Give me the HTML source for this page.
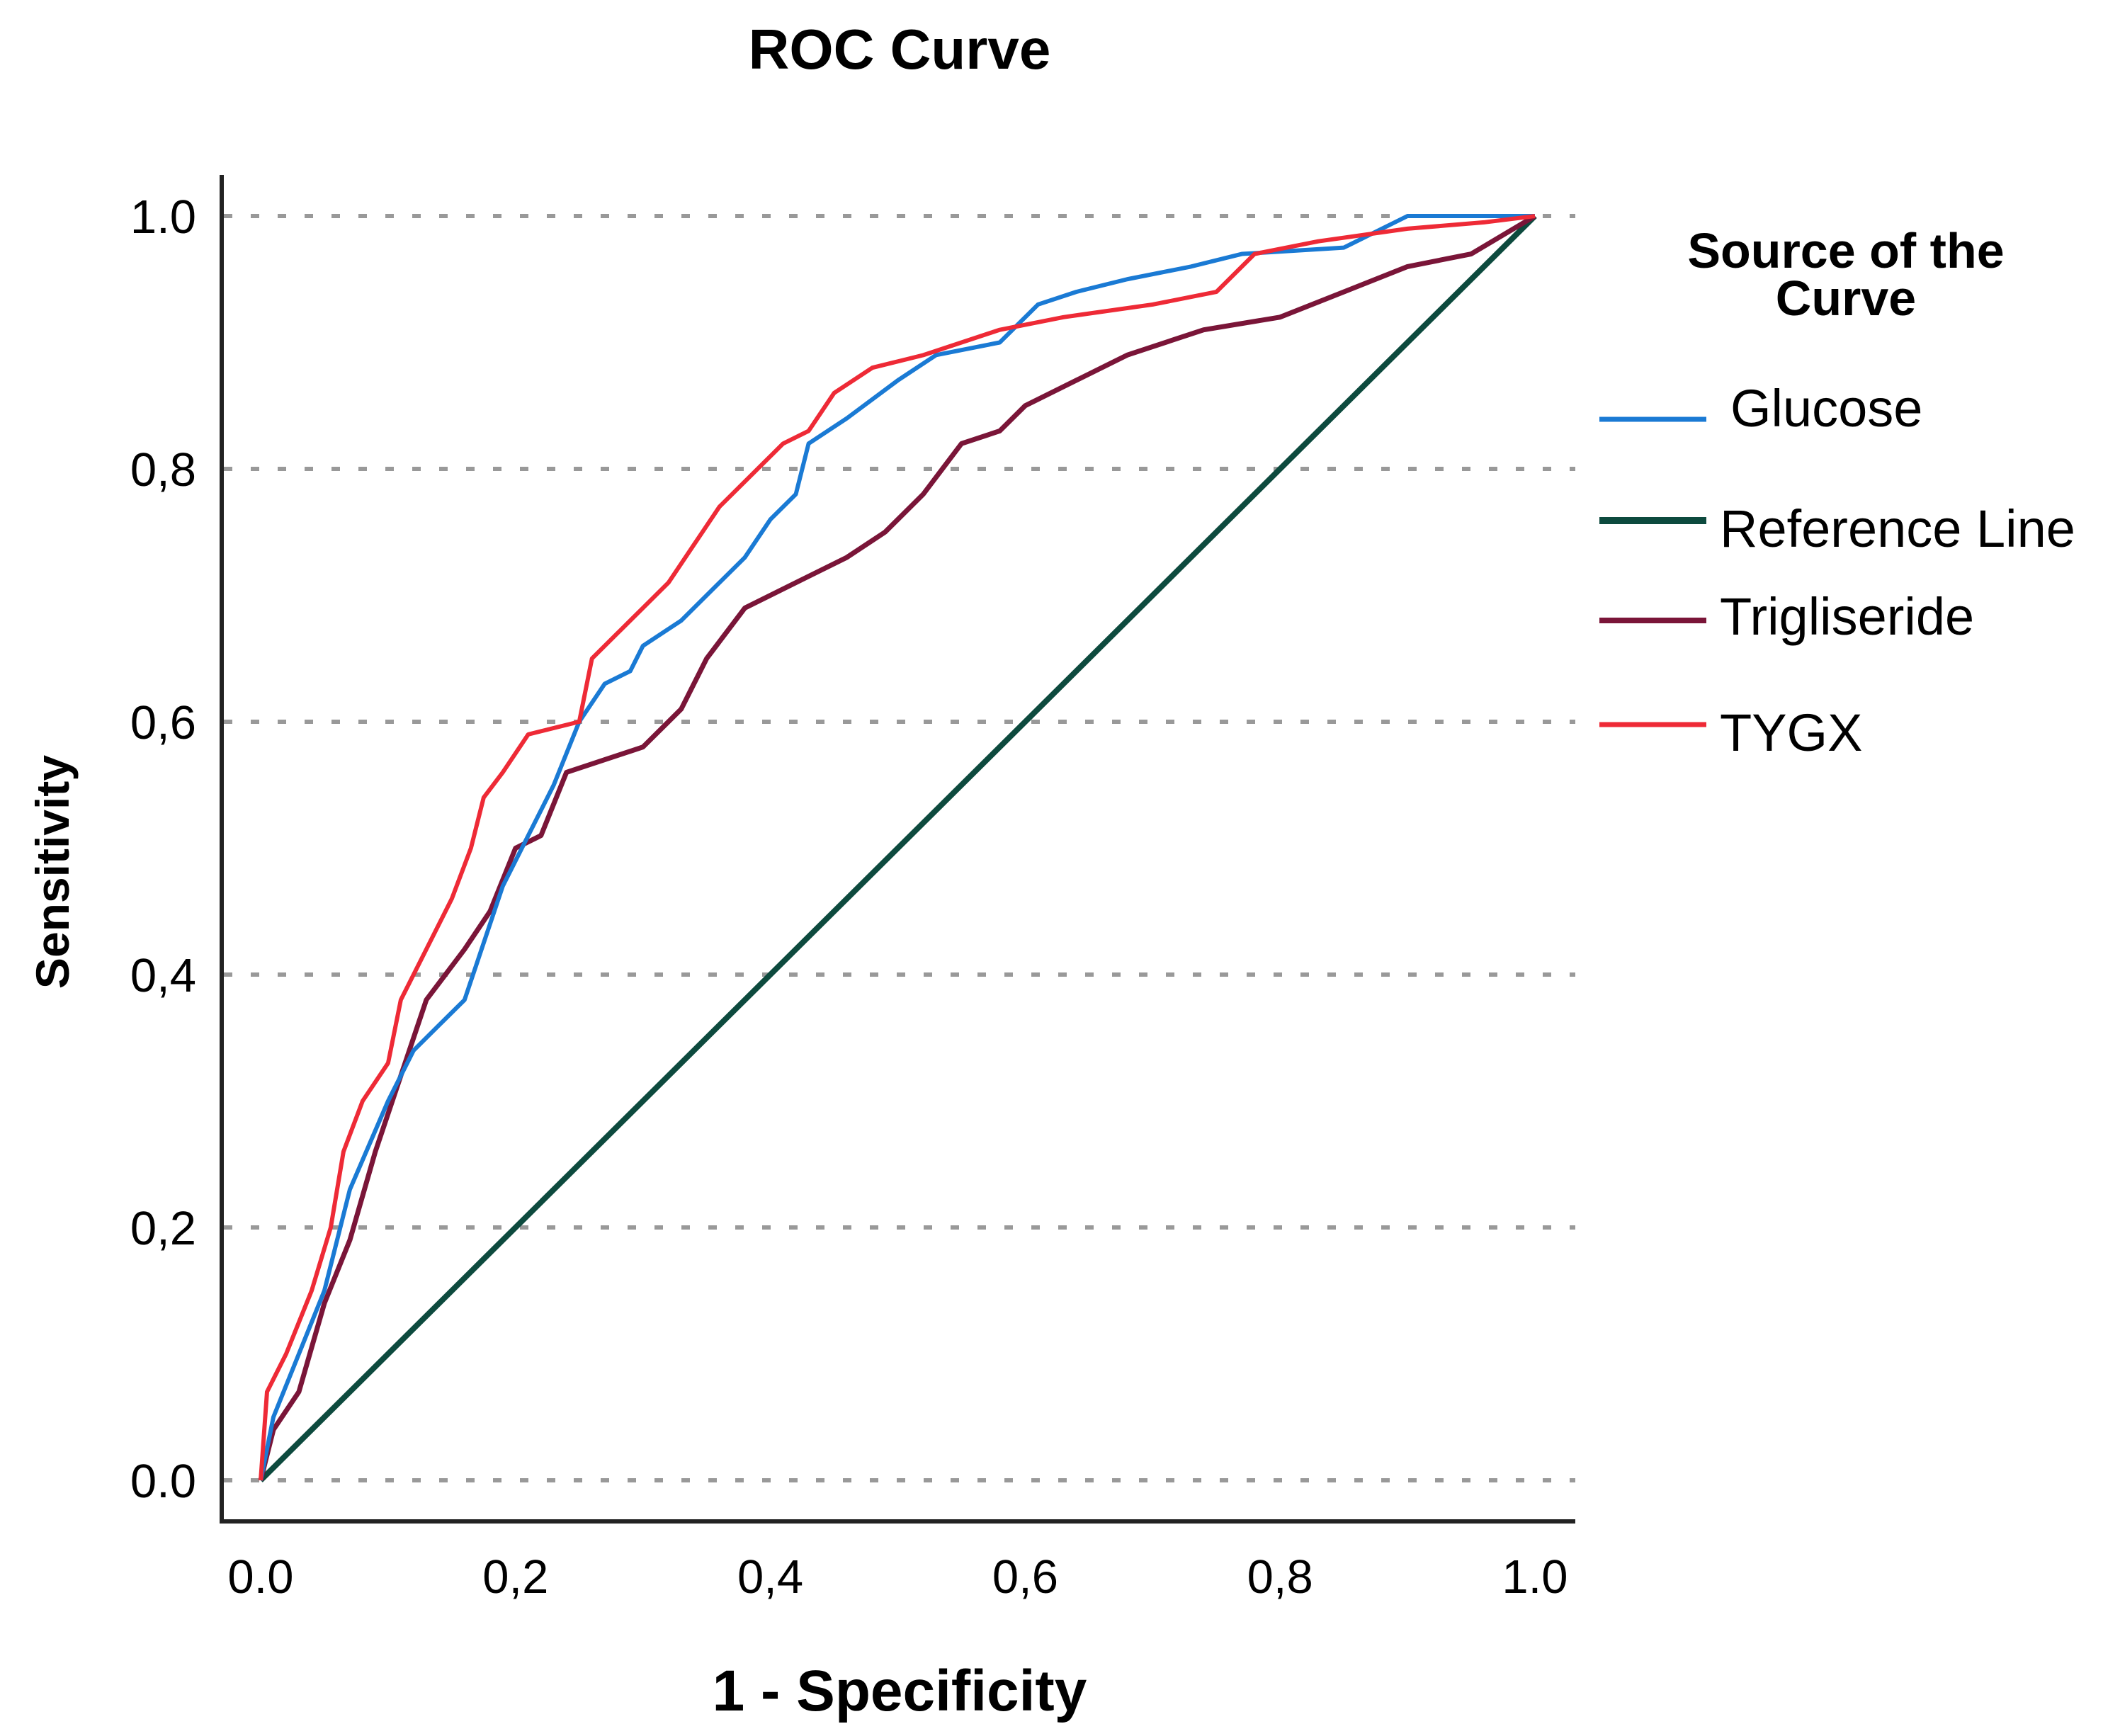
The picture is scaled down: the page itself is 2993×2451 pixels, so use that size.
<!DOCTYPE html>
<html><head><meta charset="utf-8"><style>
html,body{margin:0;padding:0;background:#fff}
svg{display:block}
text{font-family:"Liberation Sans",Arial,sans-serif;fill:#000}
</style></head><body>
<svg id="chart" width="2993" height="2451" viewBox="0 0 2993 2451" xmlns="http://www.w3.org/2000/svg">
<text x="1270" y="97" font-size="80" font-weight="bold" text-anchor="middle">ROC Curve</text>
<g id="grid"></g>
<g id="series"></g>
<line x1="313" y1="247" x2="313" y2="2150" stroke="#222" stroke-width="6"/>
<line x1="310" y1="2148" x2="2224" y2="2148" stroke="#222" stroke-width="6"/>
<g id="yticks"></g>
<g id="xticks"></g>
<text x="1270" y="2415" font-size="82" font-weight="bold" text-anchor="middle">1 - Specificity</text>
<text transform="translate(97,1231) rotate(-90)" font-size="66" font-weight="bold" text-anchor="middle">Sensitivity</text>
<g>
<text x="2606" y="378" font-size="70" font-weight="bold" text-anchor="middle">Source of the</text>
<text x="2606" y="445" font-size="70" font-weight="bold" text-anchor="middle">Curve</text>
<line x1="2258" y1="592" x2="2409" y2="592" stroke="#1a7ad4" stroke-width="7"/>
<text x="2443" y="602" font-size="74">Glucose</text>
<line x1="2258" y1="735" x2="2409" y2="735" stroke="#0d4a3e" stroke-width="10"/>
<text x="2428" y="772" font-size="74">Reference Line</text>
<line x1="2258" y1="876" x2="2409" y2="876" stroke="#7a1538" stroke-width="8"/>
<text x="2428" y="896" font-size="74">Trigliseride</text>
<line x1="2258" y1="1023" x2="2409" y2="1023" stroke="#ee2a36" stroke-width="7"/>
<text x="2428" y="1060" font-size="74">TYGX</text>
</g>
</svg>
<script>
const tickValues=[0,0.2,0.4,0.6,0.8,1.0];
const tickLabels=["0.0","0,2","0,4","0,6","0,8","1.0"];
const yTickLabels=["0.0","0,2","0,4","0,6","0,8","1.0"];
const referenceFpr=[0,1];
const referenceTpr=[0,1];
const glucoseFpr=[0,0.01,0.03,0.05,0.07,0.1,0.12,0.14,0.16,0.17,0.19,0.21,0.23,0.25,0.27,0.29,0.3,0.33,0.36,0.38,0.4,0.42,0.43,0.46,0.5,0.53,0.58,0.61,0.64,0.68,0.73,0.77,0.85,0.9,1];
const glucoseTpr=[0,0.05,0.1,0.15,0.23,0.3,0.34,0.36,0.38,0.41,0.47,0.51,0.55,0.6,0.63,0.64,0.66,0.68,0.71,0.73,0.76,0.78,0.82,0.84,0.87,0.89,0.9,0.93,0.94,0.95,0.96,0.97,0.975,1.0,1];
const trigFpr=[0,0.01,0.03,0.05,0.07,0.09,0.11,0.13,0.16,0.18,0.2,0.22,0.24,0.27,0.3,0.33,0.35,0.38,0.42,0.46,0.49,0.52,0.55,0.58,0.6,0.64,0.68,0.74,0.8,0.85,0.9,0.95,1];
const trigTpr=[0,0.04,0.07,0.14,0.19,0.26,0.32,0.38,0.42,0.45,0.5,0.51,0.56,0.57,0.58,0.61,0.65,0.69,0.71,0.73,0.75,0.78,0.82,0.83,0.85,0.87,0.89,0.91,0.92,0.94,0.96,0.97,1];
const tygxFpr=[0,0.005,0.02,0.04,0.055,0.065,0.08,0.1,0.11,0.13,0.15,0.165,0.175,0.19,0.21,0.25,0.26,0.28,0.3,0.32,0.34,0.36,0.39,0.41,0.43,0.45,0.48,0.52,0.58,0.63,0.7,0.75,0.78,0.83,0.9,0.96,1];
const tygxTpr=[0,0.07,0.1,0.15,0.2,0.26,0.3,0.33,0.38,0.42,0.46,0.5,0.54,0.56,0.59,0.6,0.65,0.67,0.69,0.71,0.74,0.77,0.8,0.82,0.83,0.86,0.88,0.89,0.91,0.92,0.93,0.94,0.97,0.98,0.99,0.995,1];

const NS="http://www.w3.org/2000/svg";
const X0=368,X1=2167,Y0=2090,Y1=305;
function xs(v){return X0+(X1-X0)*v;}
function ys(v){return Y0-(Y0-Y1)*v;}
const grid=document.getElementById('grid');
const yt=document.getElementById('yticks');
const xt=document.getElementById('xticks');
tickValues.forEach((v,i)=>{
  const l=document.createElementNS(NS,'line');
  
  
  l.setAttribute('x1',316);l.setAttribute('x2',2224);
  l.setAttribute('y1',ys(v));l.setAttribute('y2',ys(v));
  l.setAttribute('stroke','#999');l.setAttribute('stroke-width','6');
  l.setAttribute('stroke-dasharray','12 26');
  grid.appendChild(l);
  const t=document.createElementNS(NS,'text');
  
  
  t.setAttribute('x',277);t.setAttribute('y',ys(v)+24);
  t.setAttribute('font-size','67');t.setAttribute('text-anchor','end');
  t.textContent=yTickLabels[i];yt.appendChild(t);
  const u=document.createElementNS(NS,'text');
  
  
  u.setAttribute('x',xs(v));u.setAttribute('y',2249);
  u.setAttribute('font-size','67');u.setAttribute('text-anchor','middle');
  u.textContent=tickLabels[i];xt.appendChild(u);
});
const series=document.getElementById('series');
function draw(name,fx,fy,color,w){
  const p=document.createElementNS(NS,'polyline');
  
  
  p.setAttribute('points',fx.map((x,i)=>xs(x)+','+ys(fy[i])).join(' '));
  p.setAttribute('fill','none');p.setAttribute('stroke',color);
  p.setAttribute('stroke-width',w);p.setAttribute('stroke-linejoin','round');
  series.appendChild(p);
}
draw('reference-line',referenceFpr,referenceTpr,'#0d4a3e',8);
draw('trigliseride-curve',trigFpr,trigTpr,'#7a1538',7);
draw('glucose-curve',glucoseFpr,glucoseTpr,'#1a7ad4',6);
draw('tygx-curve',tygxFpr,tygxTpr,'#ee2a36',6);
</script>
</body></html>
